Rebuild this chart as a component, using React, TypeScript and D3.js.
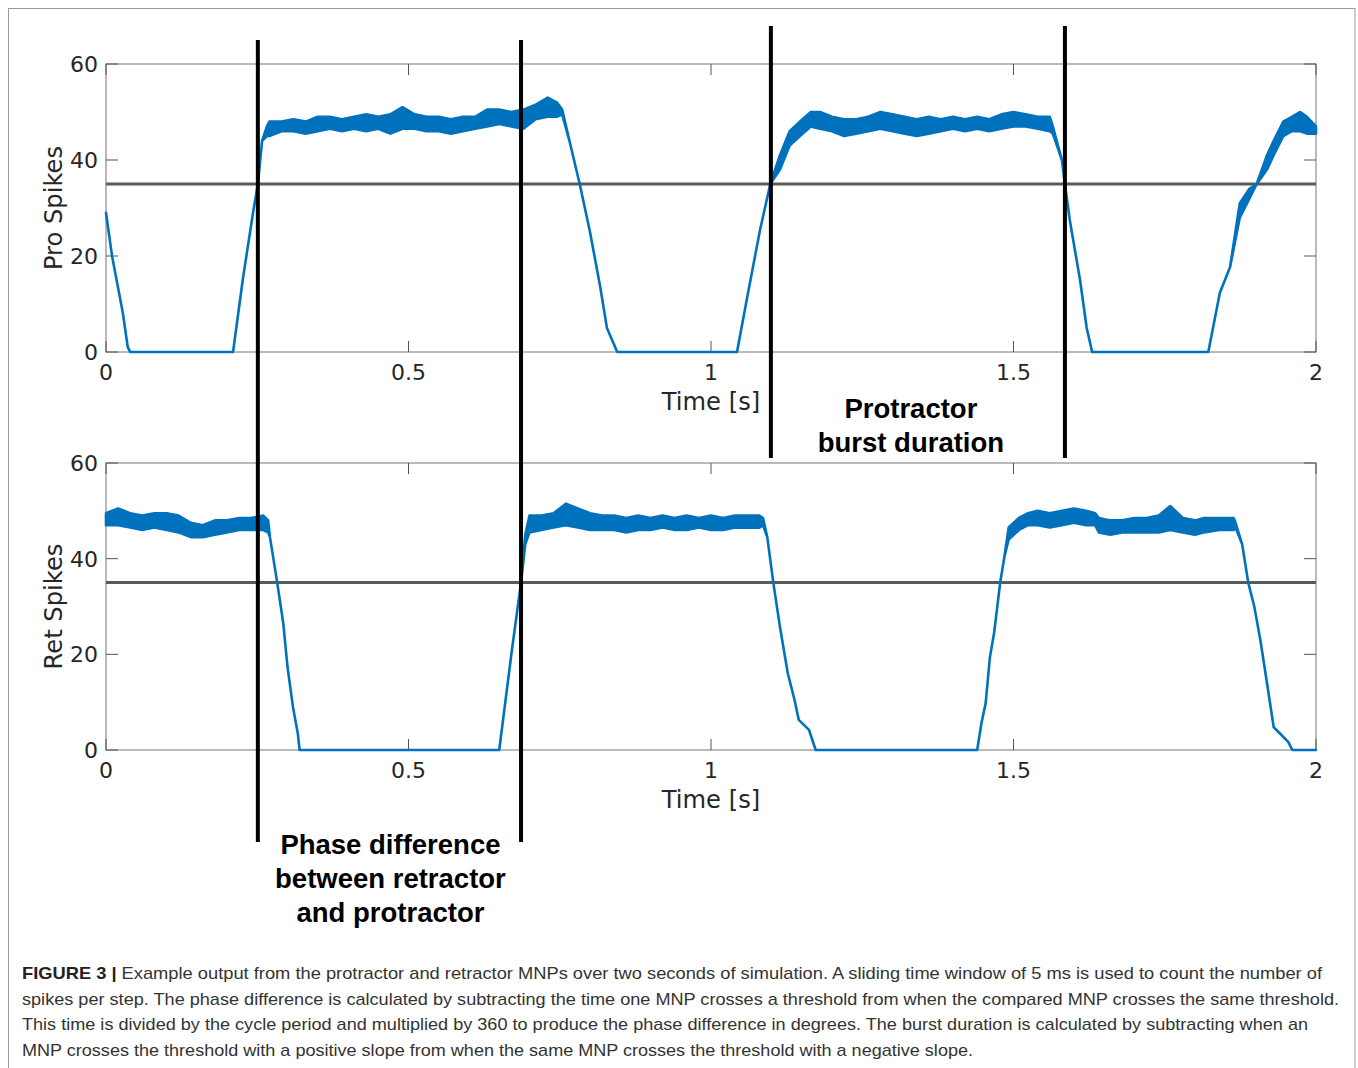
import { useEffect, useRef } from 'react';
import * as d3 from 'd3';

// Pro trace: time [s], lower and upper edge of the jittery trace (spikes per step)
const proTime = [
  0, 0.01, 0.028, 0.036, 0.04, 0.21, 0.226, 0.243, 0.251, 0.258, 0.266,
  0.27, 0.29, 0.31, 0.33, 0.35, 0.37, 0.39, 0.41, 0.43, 0.45, 0.47, 0.49, 0.51, 0.53, 0.55, 0.57,
  0.59, 0.61, 0.63, 0.65, 0.67, 0.69, 0.71, 0.73, 0.745, 0.754,
  0.767, 0.783, 0.8, 0.817, 0.828, 0.845, 1.043, 1.06, 1.081, 1.098, 1.114, 1.13, 1.147, 1.165, 1.18,
  1.2, 1.22, 1.24, 1.26, 1.28, 1.3, 1.32, 1.34, 1.36, 1.38, 1.4, 1.42, 1.44, 1.46, 1.48, 1.5, 1.52,
  1.54, 1.56, 1.565, 1.58, 1.585, 1.593, 1.61, 1.621, 1.63, 1.822, 1.841, 1.858, 1.874, 1.89, 1.902,
  1.919, 1.93, 1.946, 1.96, 1.974, 1.985, 2.0,
];
const proLow = [
  29, 20, 8, 1, 0, 0, 15, 29, 35, 44, 45,
  45, 46, 46, 45.5, 46, 46.5, 46, 46.5, 46, 46.5, 45.5, 46.5, 46.5, 46, 46, 45.5,
  46, 46.5, 47, 47.5, 47, 46.5, 48.5, 49, 49, 49.5,
  43.5, 35, 25, 13.5, 5, 0, 0, 11.5, 25.4, 35, 38, 43, 45, 47, 46.5,
  46, 45, 45.5, 46, 46.5, 46, 45.5, 45, 45.5, 46, 46.5, 46, 46.5, 46, 46.5, 47, 47,
  46.5, 46, 45.5, 40, 35, 27.5, 15, 5, 0, 0, 12.3, 17.7, 28, 32, 35,
  38, 41, 45, 46, 46, 45.5, 45.5,
];
const proHigh = [
  29, 20, 8, 1, 0, 0, 15, 29, 35, 44, 47,
  48, 48, 48.5, 48, 49, 49, 48.5, 49, 49.5, 49, 49.5, 51, 49.5, 49, 49, 48.5,
  49, 49, 50.5, 50.5, 50, 50.5, 51.5, 53, 52, 50.5,
  43.5, 35, 25, 13.5, 5, 0, 0, 11.5, 25.4, 35, 41, 46, 48, 50, 50,
  49, 48.5, 48.5, 49, 50, 49.5, 49, 48.5, 49, 48.5, 49, 48.5, 49, 48.5, 49.5, 50, 49.5,
  49, 49, 47, 40, 35, 27.5, 15, 5, 0, 0, 12.3, 17.7, 31, 34, 35,
  41, 44, 48, 49, 50, 49, 47,
];

// Ret trace
const retTime = [
  0, 0.02, 0.04, 0.06, 0.08, 0.1, 0.12, 0.14, 0.16, 0.18, 0.2, 0.22, 0.24, 0.26, 0.268,
  0.271, 0.283, 0.293, 0.3, 0.309, 0.317, 0.32, 0.65, 0.66, 0.671, 0.686, 0.693,
  0.7, 0.72, 0.74, 0.76, 0.78, 0.8, 0.82, 0.84, 0.86, 0.88, 0.9, 0.92, 0.94, 0.96, 0.98, 1.0,
  1.02, 1.04, 1.06, 1.08, 1.086,
  1.093, 1.103, 1.114, 1.127, 1.138, 1.145, 1.162, 1.173, 1.44, 1.447, 1.454, 1.461, 1.468, 1.478,
  1.485, 1.492, 1.509, 1.524, 1.54, 1.56, 1.58, 1.6, 1.62, 1.635, 1.641, 1.66, 1.68, 1.7, 1.72,
  1.74, 1.759, 1.78, 1.8, 1.815, 1.84, 1.864, 1.867,
  1.878, 1.888, 1.898, 1.908, 1.919, 1.93, 1.94, 1.954, 1.961, 2.0,
];
const retLow = [
  47, 47, 46.5, 46, 46.5, 46, 45.5, 44.5, 44.5, 45, 45.5, 46, 46, 46, 45.5,
  44.5, 35, 26.5, 17.4, 9, 3.5, 0, 0, 10, 21, 35, 43,
  45.5, 46, 46.5, 47, 46.5, 46, 46, 46, 45.5, 46, 46, 46.5, 46, 46, 46.5, 46,
  46, 46.5, 46.5, 46.5, 47,
  44.5, 35, 25.7, 16, 10.5, 6.3, 4.2, 0, 0, 5.6, 9.8, 19.4, 24.5, 35,
  40.4, 44, 46, 47, 47, 46.5, 47, 47.5, 47, 47, 45.5, 45, 45.5, 45.5, 45.5,
  45.5, 46, 45.5, 45, 45.5, 46, 46, 46.5,
  43, 35, 30, 23, 14, 4.8, 3.5, 1.7, 0, 0,
];
const retHigh = [
  49.5, 50.5, 49.5, 49, 49.5, 49.5, 49, 47.5, 47, 48, 48, 48.5, 48.5, 49, 48,
  44.5, 35, 26.5, 17.4, 9, 3.5, 0, 0, 10, 21, 35, 45,
  49, 49, 49.5, 51.5, 50.5, 49.5, 49, 49, 48.5, 49, 48.5, 49, 48.5, 49, 48.5, 49,
  48.5, 49, 49, 49, 48.5,
  44.5, 35, 25.7, 16, 10.5, 6.3, 4.2, 0, 0, 5.6, 9.8, 19.4, 24.5, 35,
  40.4, 46.5, 48.5, 49.5, 50, 49.5, 50, 50.5, 50, 49.5, 48.5, 48, 48, 48.5, 48.5,
  49, 51, 48.5, 48, 48.5, 48.5, 48.5, 47.5,
  43, 35, 30, 23, 14, 4.8, 3.5, 1.7, 0, 0,
];

const threshold = 35;
const xTicks = [0, 0.5, 1, 1.5, 2];
const xTickLabels = ['0', '0.5', '1', '1.5', '2'];
const yTicks = [0, 20, 40, 60];

// threshold crossings marked by the black bars
const phaseMarks = [0.251, 0.686];
const burstMarks = [1.099, 1.585];

const captionLines = [
  'Example output from the protractor and retractor MNPs over two seconds of simulation. A sliding time window of 5 ms is used to count the number of',
  'spikes per step. The phase difference is calculated by subtracting the time one MNP crosses a threshold from when the compared MNP crosses the same threshold.',
  'This time is divided by the cycle period and multiplied by 360 to produce the phase difference in degrees. The burst duration is calculated by subtracting when an',
  'MNP crosses the threshold with a positive slope from when the same MNP crosses the threshold with a negative slope.',
];

export default function App() {
  const svgRef = useRef<SVGSVGElement>(null);

  useEffect(() => {
    if (!svgRef.current) return;
    const width = 1358;
    const height = 1068;
    const svg = d3.select(svgRef.current)
      .attr('width', width)
      .attr('height', height)
      .attr('viewBox', `0 0 ${width} ${height}`);
    svg.selectAll('*').remove();

    svg.append('rect')
      .attr('x', 8.5).attr('y', 8.5)
      .attr('width', 1346.5).attr('height', 1080)
      .attr('fill', '#fff')
      .attr('stroke', '#9a9a9a')
      .attr('stroke-width', 1);

    const x = d3.scaleLinear().domain([0, 2]).range([106, 1316]);
    const tickFont = 'DejaVu Sans, sans-serif';

    const panels = [
      { top: 64, bottom: 352, label: 'Pro Spikes', t: proTime, lo: proLow, hi: proHigh },
      { top: 463, bottom: 750, label: 'Ret Spikes', t: retTime, lo: retLow, hi: retHigh },
    ];

    panels.forEach(p => {
      const y = d3.scaleLinear().domain([0, 60]).range([p.bottom, p.top]);
      const g = svg.append('g');

      // box
      g.append('rect')
        .attr('x', x(0)).attr('y', y(60))
        .attr('width', x(2) - x(0)).attr('height', y(0) - y(60))
        .attr('fill', 'none')
        .attr('stroke', '#8c8c8c')
        .attr('stroke-width', 1.2);

      // inward ticks on all four sides
      xTicks.forEach(v => {
        g.append('line').attr('x1', x(v)).attr('x2', x(v)).attr('y1', y(0)).attr('y2', y(0) - 11)
          .attr('stroke', '#555').attr('stroke-width', 1);
        g.append('line').attr('x1', x(v)).attr('x2', x(v)).attr('y1', y(60)).attr('y2', y(60) + 11)
          .attr('stroke', '#555').attr('stroke-width', 1);
      });
      yTicks.forEach(v => {
        g.append('line').attr('x1', x(0)).attr('x2', x(0) + 12).attr('y1', y(v)).attr('y2', y(v))
          .attr('stroke', '#555').attr('stroke-width', 1);
        g.append('line').attr('x1', x(2)).attr('x2', x(2) - 12).attr('y1', y(v)).attr('y2', y(v))
          .attr('stroke', '#555').attr('stroke-width', 1);
      });

      g.selectAll('.xtl')
        .data(xTicks)
        .enter().append('text')
        .attr('x', d => x(d))
        .attr('y', y(0) + 28)
        .attr('text-anchor', 'middle')
        .attr('font-family', tickFont)
        .attr('font-size', 22)
        .attr('fill', '#262626')
        .text((d, i) => xTickLabels[i]);

      g.selectAll('.ytl')
        .data(yTicks)
        .enter().append('text')
        .attr('x', x(0) - 8)
        .attr('y', d => y(d) + 8)
        .attr('text-anchor', 'end')
        .attr('font-family', tickFont)
        .attr('font-size', 22)
        .attr('fill', '#262626')
        .text(d => d);

      g.append('text')
        .attr('transform', `translate(62, ${(p.top + p.bottom) / 2}) rotate(-90)`)
        .attr('text-anchor', 'middle')
        .attr('font-family', tickFont)
        .attr('font-size', 24.2)
        .attr('fill', '#262626')
        .text(p.label);

      g.append('text')
        .attr('x', x(1))
        .attr('y', y(0) + 58)
        .attr('text-anchor', 'middle')
        .attr('font-family', tickFont)
        .attr('font-size', 24.2)
        .attr('fill', '#262626')
        .text('Time [s]');

      // threshold
      g.append('line')
        .attr('x1', x(0)).attr('x2', x(2))
        .attr('y1', y(threshold)).attr('y2', y(threshold))
        .attr('stroke', '#5a5a5a')
        .attr('stroke-width', 3);

      // trace: jitter band between lower and upper edge
      const idx = d3.range(p.t.length);
      const area = d3.area<number>()
        .x(i => x(p.t[i]))
        .y0(i => y(p.lo[i]))
        .y1(i => y(p.hi[i]));
      g.append('path')
        .attr('d', area(idx) || '')
        .attr('fill', '#0072BD')
        .attr('stroke', '#0072BD')
        .attr('stroke-width', 2.6)
        .attr('stroke-linejoin', 'round');
    });

    // black marker bars
    phaseMarks.forEach(t => {
      svg.append('line')
        .attr('x1', x(t)).attr('x2', x(t))
        .attr('y1', 40).attr('y2', 842)
        .attr('stroke', '#000').attr('stroke-width', 4);
    });
    burstMarks.forEach(t => {
      svg.append('line')
        .attr('x1', x(t)).attr('x2', x(t))
        .attr('y1', 26).attr('y2', 458)
        .attr('stroke', '#000').attr('stroke-width', 4);
    });

    const noteFont = 'Liberation Sans, Arial, sans-serif';
    const burstCx = (x(burstMarks[0]) + x(burstMarks[1])) / 2;
    ['Protractor', 'burst duration'].forEach((s, i) => {
      svg.append('text')
        .attr('x', burstCx - 7)
        .attr('y', 418 + i * 34)
        .attr('text-anchor', 'middle')
        .attr('font-family', noteFont)
        .attr('font-weight', 'bold')
        .attr('font-size', 27.5)
        .attr('fill', '#000')
        .text(s);
    });
    const phaseCx = (x(phaseMarks[0]) + x(phaseMarks[1])) / 2;
    ['Phase difference', 'between retractor', 'and protractor'].forEach((s, i) => {
      svg.append('text')
        .attr('x', phaseCx + 1)
        .attr('y', 854 + i * 34)
        .attr('text-anchor', 'middle')
        .attr('font-family', noteFont)
        .attr('font-weight', 'bold')
        .attr('font-size', 27.5)
        .attr('fill', '#000')
        .text(s);
    });

    // caption
    const capEnds = [1322, 1339, 1308, 973];
    captionLines.forEach((s, i) => {
      const t = svg.append('text')
        .attr('x', 22)
        .attr('y', 979 + i * 25.5)
        .attr('font-family', noteFont)
        .attr('font-size', 17)
        .attr('fill', '#333')
        .attr('textLength', capEnds[i] - 22)
        .attr('lengthAdjust', 'spacingAndGlyphs');
      if (i === 0) {
        t.append('tspan').attr('font-weight', 'bold').attr('fill', '#222').text('FIGURE 3 | ');
      }
      t.append('tspan').text(s);
    });
  }, []);

  return (
    <div style={{ position: 'absolute', left: 0, top: 0, width: 1358, height: 1068, overflow: 'hidden' }}>
      <svg ref={svgRef} style={{ display: 'block' }} />
    </div>
  );
}
